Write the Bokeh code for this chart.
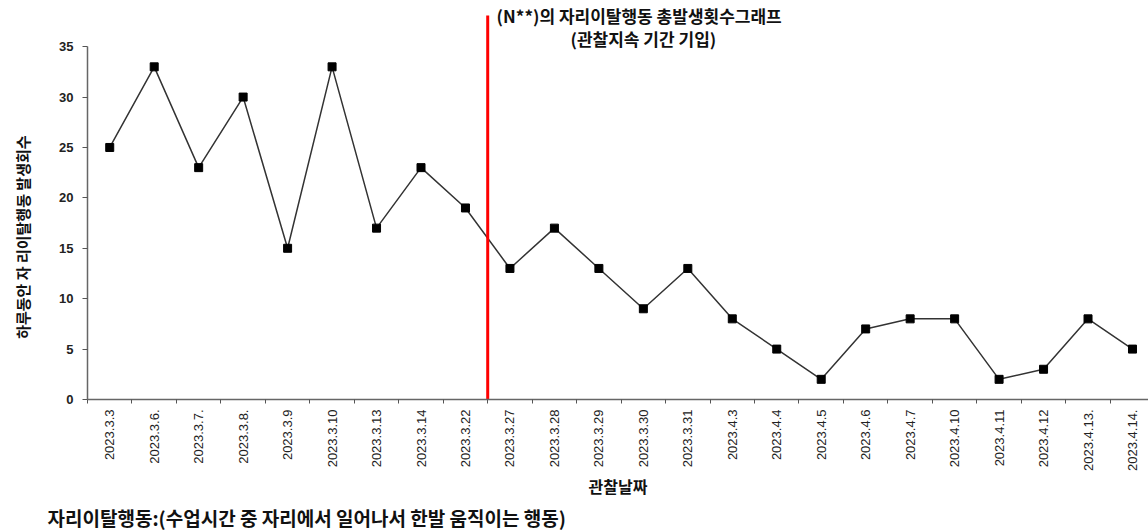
import math
from bokeh.plotting import figure
from bokeh.models import Range1d, FixedTicker, Label
from bokeh.core.properties import value
from bokeh.layouts import row, column
from bokeh.embed import file_html
from bokeh.resources import INLINE

# ---- data ----
dates = ["2023.3.3", "2023.3.6.", "2023.3.7.", "2023.3.8.", "2023.3.9", "2023.3.10",
         "2023.3.13", "2023.3.14", "2023.3.22", "2023.3.27", "2023.3.28", "2023.3.29",
         "2023.3.30", "2023.3.31", "2023.4.3", "2023.4.4", "2023.4.5", "2023.4.6",
         "2023.4.7", "2023.4.10", "2023.4.11", "2023.4.12", "2023.4.13.", "2023.4.14."]
counts = [25, 33, 23, 30, 15, 33, 17, 23, 19, 13, 17, 13, 9, 13, 8, 5, 2, 7, 8, 8, 2, 3, 8, 5]
split_date = "2023.3.27"
y_ticks = [0, 5, 10, 15, 20, 25, 30, 35]

title_line1 = "(N**)의 자리이탈행동 총발생횟수그래프"
title_line2 = "(관찰지속 기간 기입)"
y_label = "하루동안 자 리이탈행동 발생회수"
x_label = "관찰날짜"
caption = "자리이탈행동:(수업시간 중 자리에서 일어나서 한발 움직이는 행동)"

KR = "Noto Sans CJK KR"
LAT = "Liberation Sans"
TXT = "#111111"

MAIN_H = 500
CAP_H = 32


def blank_fig(w, h):
    f = figure(width=w, height=h, output_backend="svg", toolbar_location=None,
               x_range=Range1d(0, w), y_range=Range1d(0, h),
               x_axis_location=None, y_axis_location=None, min_border=0)
    f.outline_line_color = None
    f.grid.visible = False
    return f


# left strip holding the y-axis title (reads bottom to top)
ylab = blank_fig(40, MAIN_H)
ylab.text(x=[22], y=[76], text=[y_label], angle=math.pi / 2,
          text_align="left", text_baseline="middle", text_font=value(KR),
          text_font_style="bold", text_font_size="15px", text_color=TXT)

# main chart
p = figure(width=1108, height=MAIN_H, output_backend="svg", toolbar_location=None,
           x_range=Range1d(-0.5, 23.36), y_range=Range1d(0, 39.58),
           min_border_left=47, min_border_right=0, min_border_top=0,
           min_border_bottom=MAIN_H - 399)
p.outline_line_color = None
p.grid.visible = False

xs = list(range(len(dates)))
p.line(xs, counts, line_color="#333333", line_width=1.5)
p.scatter(xs, counts, marker="square", size=8, fill_color="black", line_color="black")

split = dates.index(split_date) - 0.5
p.segment(x0=[split], y0=[0], x1=[split], y1=[38.1], line_color="#ff0000", line_width=3)

# x axis
xa = p.xaxis[0]
xa.ticker = FixedTicker(ticks=xs, minor_ticks=[i - 0.5 for i in range(len(dates) + 1)])
xa.major_label_overrides = {i: d for i, d in enumerate(dates)}
xa.major_label_orientation = math.pi / 2
xa.major_tick_in = 0
xa.major_tick_out = 0
xa.minor_tick_in = 0
xa.minor_tick_out = 4
xa.minor_tick_line_color = "#555555"
xa.axis_line_color = "#666666"
xa.axis_line_width = 1.5
xa.major_label_text_font = LAT
xa.major_label_text_font_size = "13px"
xa.major_label_text_color = "#222222"
xa.major_label_standoff = 6
xa.axis_label = x_label
xa.axis_label_text_font = KR
xa.axis_label_text_font_style = "bold"
xa.axis_label_text_font_size = "16px"
xa.axis_label_text_color = TXT
xa.axis_label_standoff = 0

# y axis
ya = p.yaxis[0]
ya.ticker = FixedTicker(ticks=y_ticks)
ya.bounds = (0, 35)
ya.major_tick_in = 0
ya.major_tick_out = 5
ya.minor_tick_out = 0
ya.minor_tick_in = 0
ya.axis_line_color = "#666666"
ya.axis_line_width = 1.5
ya.major_tick_line_color = "#555555"
ya.major_label_text_font = LAT
ya.major_label_text_font_style = "bold"
ya.major_label_text_font_size = "13px"
ya.major_label_text_color = "#222222"
ya.major_label_standoff = 9

p.add_layout(Label(x=split + 0.2, y=38.1, text=title_line1, text_align="left",
                   text_baseline="middle", text_font=KR, text_font_style="bold",
                   text_font_size="17px", text_color=TXT))
p.add_layout(Label(x=12.0, y=35.8, text=title_line2, text_align="center",
                   text_baseline="middle", text_font=KR, text_font_style="bold",
                   text_font_size="17px", text_color=TXT))

# bottom strip holding the caption
cap = blank_fig(1148, CAP_H)
cap.add_layout(Label(x=47, y=15, text=caption, text_align="left", text_baseline="middle",
                     text_font=KR, text_font_style="bold", text_font_size="19px",
                     text_color=TXT))

layout = column(row(ylab, p), cap)
open("out.html", "w").write(file_html(layout, INLINE))
